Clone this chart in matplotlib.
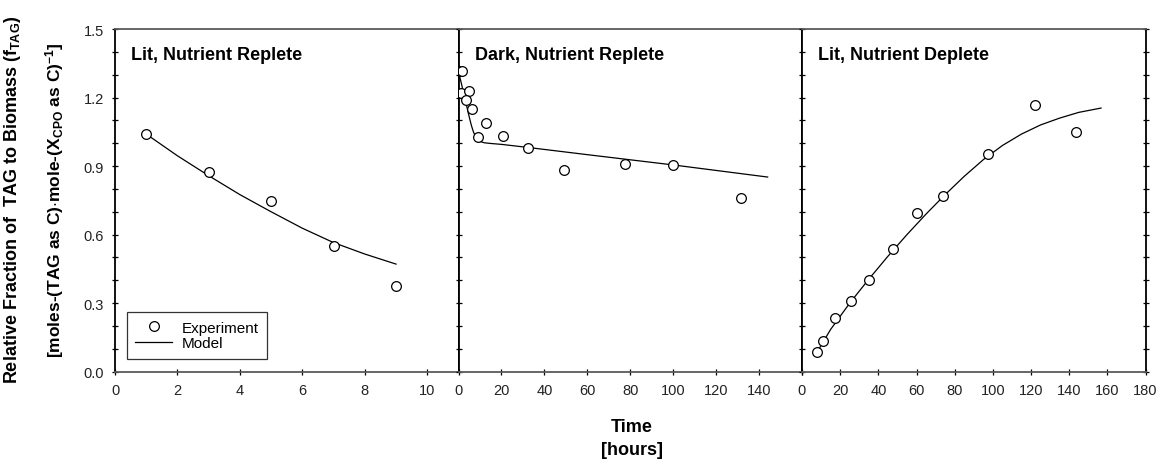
import matplotlib
matplotlib.use("Agg")
import matplotlib.pyplot as plt
from matplotlib.ticker import MultipleLocator, FixedLocator, FixedFormatter

plt.rcParams['font.family'] = ['Liberation Sans', 'DejaVu Sans']
plt.rcParams['mathtext.fontset'] = 'custom'
plt.rcParams['mathtext.rm'] = 'Liberation Sans'
plt.rcParams['mathtext.bf'] = 'Liberation Sans:bold'
plt.rcParams['mathtext.it'] = 'Liberation Sans:italic'

# ---- data ----
titles = ["Lit, Nutrient Replete", "Dark, Nutrient Replete", "Lit, Nutrient Deplete"]

p1_exp_t = [1, 3, 5, 7, 9]
p1_exp_f = [1.042, 0.876, 0.747, 0.551, 0.376]
p1_mod_t = [1, 2, 3, 4, 5, 6, 7, 8, 9]
p1_mod_f = [1.04, 0.945, 0.858, 0.775, 0.70, 0.628, 0.565, 0.515, 0.471]

p2_exp_t = [0.0, 1.5, 1.2, 4.8, 3.3, 6.4, 12.6, 9.0, 20.6, 32.6, 49.3, 77.5, 100.0, 131.5]
p2_exp_f = [1.315, 1.315, 1.222, 1.227, 1.19, 1.15, 1.089, 1.028, 1.031, 0.98, 0.881, 0.911, 0.904, 0.759]
p2_mod_t = [0, 1, 2, 3, 4, 5, 6, 7, 8, 9, 10, 12, 15, 20, 32, 60, 100, 144]
p2_mod_f = [1.314, 1.275, 1.235, 1.195, 1.155, 1.115, 1.078, 1.048, 1.030, 1.018, 1.008,
            1.002, 0.999, 0.995, 0.982, 0.950, 0.905, 0.852]

p3_exp_t = [7.7, 11.2, 17.4, 25.6, 35.3, 47.5, 60.2, 73.8, 97.5, 122.1, 143.7]
p3_exp_f = [0.086, 0.134, 0.234, 0.308, 0.403, 0.536, 0.696, 0.769, 0.951, 1.166, 1.05]
p3_mod_t = [7.5, 15, 25, 35, 45, 55, 65, 75, 85, 95, 105, 115, 125, 135, 145, 156.7]
p3_mod_f = [0.080, 0.185, 0.300, 0.405, 0.505, 0.600, 0.690, 0.775, 0.855, 0.928,
            0.990, 1.040, 1.080, 1.110, 1.135, 1.154]

xlims = [(0, 11), (0, 160), (0, 180)]
xsteps = [2, 20, 20]
xlabels_list = [["0", "2", "4", "6", "8", "10"],
                ["0", "20", "40", "60", "80", "100", "120", "140"],
                ["0", "20", "40", "60", "80", "100", "120", "140", "160", "180"]]
ytick_vals = [0.0, 0.3, 0.6, 0.9, 1.2, 1.5]
ytick_labels = ["0.0", "0.3", "0.6", "0.9", "1.2", "1.5"]

exp_t = [p1_exp_t, p2_exp_t, p3_exp_t]
exp_f = [p1_exp_f, p2_exp_f, p3_exp_f]
mod_t = [p1_mod_t, p2_mod_t, p3_mod_t]
mod_f = [p1_mod_f, p2_mod_f, p3_mod_f]

fig = plt.figure(figsize=(11.7, 4.64), dpi=100)
left0 = 115 / 1170
w = 343.5 / 1170
bottom = 1 - 372.7 / 464
h = (372.7 - 30) / 464

axes = []
for i in range(3):
    ax = fig.add_axes([left0 + i * w, bottom, w, h])
    axes.append(ax)
    ax.plot(mod_t[i], mod_f[i], color='black', lw=0.9, label='Model', zorder=2)
    ax.plot(exp_t[i], exp_f[i], linestyle='none', marker='o', markersize=7,
            markerfacecolor='white', markeredgecolor='black', markeredgewidth=0.9,
            label='Experiment', zorder=3)
    ax.set_xlim(*xlims[i])
    ax.set_ylim(0, 1.5)
    ax.xaxis.set_major_locator(FixedLocator(
        [xlims[i][0] + k * xsteps[i] for k in range(int((xlims[i][1] - xlims[i][0]) / xsteps[i]) + 1)]))
    lbls = xlabels_list[i] + [""] * 5
    ax.xaxis.set_major_formatter(FixedFormatter(lbls))
    ax.yaxis.set_major_locator(FixedLocator(ytick_vals))
    ax.yaxis.set_minor_locator(MultipleLocator(0.1))
    if i == 0:
        ax.yaxis.set_major_formatter(FixedFormatter(ytick_labels))
    else:
        ax.set_yticklabels([])
    ax.tick_params(axis='both', which='both', direction='inout', length=4, width=0.9,
                   labelsize=10.5, pad=6, colors='black')
    ax.tick_params(axis='y', which='both', right=(i == 2))
    for s in ['left', 'right']:
        ax.spines[s].set_color('black')
        ax.spines[s].set_linewidth(1.3)
    for s in ['top', 'bottom']:
        ax.spines[s].set_color('#5a5a5a')
        ax.spines[s].set_linewidth(1.3)
    ax.text(0.048, 0.927, titles[i], transform=ax.transAxes, fontsize=13,
            fontweight='bold', va='center', ha='left')
    for lab in ax.get_xticklabels() + ax.get_yticklabels():
        lab.set_color('#222222')

handles, labels = axes[0].get_legend_handles_labels()
leg = axes[0].legend([handles[1], handles[0]], [labels[1], labels[0]],
                     loc='lower left', bbox_to_anchor=(0.035, 0.038), borderaxespad=0,
                     frameon=True, fancybox=False, fontsize=11, handlelength=2.4,
                     handletextpad=0.6, borderpad=0.55, labelspacing=0.1)
leg.get_frame().set_edgecolor('black')
leg.get_frame().set_linewidth(0.9)

fig.text(0.011, 0.569, r"Relative Fraction of  TAG to Biomass (f$_{\mathbf{TAG}}$)",
         rotation=90, fontsize=13, fontweight='bold', ha='center', va='center')
fig.text(0.047, 0.569,
         r"[moles-(TAG as C)$\cdot$mole-(X$_{\mathbf{CPO}}$ as C)$^{\mathbf{-1}}$]",
         rotation=90, fontsize=12.5, fontweight='bold', ha='center', va='center')
fig.text(0.54, 1 - 428 / 464, "Time", fontsize=13, fontweight='bold', ha='center', va='center')
fig.text(0.54, 1 - 451 / 464, "[hours]", fontsize=13, fontweight='bold', ha='center', va='center')

fig.savefig("out.png", dpi=100)
